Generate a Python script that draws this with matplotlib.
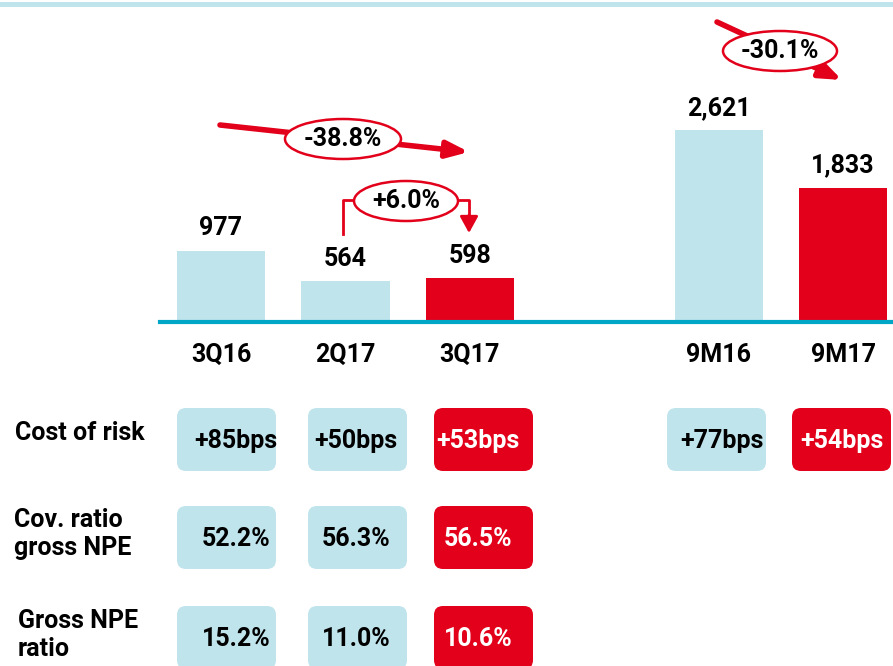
import matplotlib
matplotlib.use("Agg")
import matplotlib.pyplot as plt
from matplotlib.patches import FancyBboxPatch, Ellipse, Rectangle

plt.rcParams['font.family'] = ['Roboto', 'DejaVu Sans']

# data
periods = ['3Q16', '2Q17', '3Q17', '9M16', '9M17']
positions = [0, 1, 2, 4, 5]
provisions = [977, 564, 598, 2621, 1833]
value_labels = ['977', '564', '598', '2,621', '1,833']
highlight = [False, False, True, False, True]

row_names = ['Cost of risk', 'Cov. ratio\ngross NPE', 'Gross NPE\nratio']
cost_of_risk = ['+85bps', '+50bps', '+53bps', '+77bps', '+54bps']
cov_ratio = ['52.2%', '56.3%', '56.5%']
gross_npe = ['15.2%', '11.0%', '10.6%']

changes = ['-38.8%', '+6.0%', '-30.1%']

LIGHT = '#c0e4ec'
RED = '#e2001a'
W, H = 893, 666
FS = 18

fig = plt.figure(figsize=(8.93, 6.66), dpi=100)

# bar axes (pixel layout: baseline at y=322, from x=160 to right edge)
ax = fig.add_axes([160 / W, (H - 322) / H, (W - 160) / W, 322 / H])
colors = [RED if h else LIGHT for h in highlight]
bars = ax.bar(positions, provisions, width=0.71, color=colors)
ax.set_xlim(-0.49, 5.40)
ax.set_ylim(0, 4400)
ax.axis('off')
ax.axhline(0, color='#00a6c6', lw=3, clip_on=False)
for rect, lab in zip(bars, value_labels):
    ax.annotate(lab, (rect.get_x() + rect.get_width() / 2, rect.get_height()),
                xytext=(0, 16), textcoords='offset points', ha='center', va='center',
                fontsize=FS, fontweight='bold')
for p, lab in zip(positions, periods):
    ax.annotate(lab, (p, 0), xytext=(0, -24), textcoords='offset points',
                ha='center', va='center', fontsize=FS, fontweight='bold')

# overlay in pixel coordinates for boxes and arrows
ov = fig.add_axes([0, 0, 1, 1])
ov.set_xlim(0, W)
ov.set_ylim(H, 0)
ov.axis('off')

ov.add_patch(Rectangle((0, 2), W, 5, color=LIGHT, lw=0))

# row labels
ov.text(15, 433, row_names[0], fontsize=FS, fontweight='bold', va='center')
ov.text(14, 534, row_names[1], fontsize=FS, fontweight='bold', va='center', linespacing=1.2)
ov.text(18, 635, row_names[2], fontsize=FS, fontweight='bold', va='center', linespacing=1.2)

box_left = [177, 308, 434, 667, 792]
text_x = [236, 356, 478, 722, 842]
row_top = [408, 506, 606]
rows = [cost_of_risk, cov_ratio, gross_npe]
for r, vals in enumerate(rows):
    for i, v in enumerate(vals):
        c = RED if highlight[i] else LIGHT
        ov.add_patch(FancyBboxPatch((box_left[i], row_top[r]), 99, 63,
                                    boxstyle='round,pad=0,rounding_size=9',
                                    fc=c, ec='none'))
        ov.text(text_x[i], row_top[r] + 33, v, ha='center', va='center',
                fontsize=FS, fontweight='bold', color='white' if highlight[i] else 'black')


def change_label(x, y, txt, w):
    ov.add_patch(Ellipse((x, y), w, 40, fc='white', ec=RED, lw=1.8, zorder=5))
    ov.text(x, y, txt, ha='center', va='center', fontsize=FS, fontweight='bold', zorder=6)


# -38.8% arrow
ov.annotate('', xy=(469, 152), xytext=(220, 125),
            arrowprops=dict(arrowstyle='-|>,head_length=1.3,head_width=0.5', color=RED, lw=4,
                            shrinkA=0, shrinkB=0))
change_label(343, 139, changes[0], 116)

# +6.0% elbow arrow
ov.plot([343, 343, 469, 469], [234, 200, 200, 218], color=RED, lw=2)
ov.annotate('', xy=(469, 233), xytext=(469, 215),
            arrowprops=dict(arrowstyle='-|>,head_length=1.0,head_width=0.55', color=RED, lw=2,
                            shrinkA=0, shrinkB=0))
change_label(406, 201, changes[1], 104)

# -30.1% arrow
ov.annotate('', xy=(842, 80), xytext=(717, 22),
            arrowprops=dict(arrowstyle='-|>,head_length=1.3,head_width=0.5', color=RED, lw=4,
                            shrinkA=0, shrinkB=0))
change_label(780, 51, changes[2], 114)

fig.savefig('out.png', dpi=100)
